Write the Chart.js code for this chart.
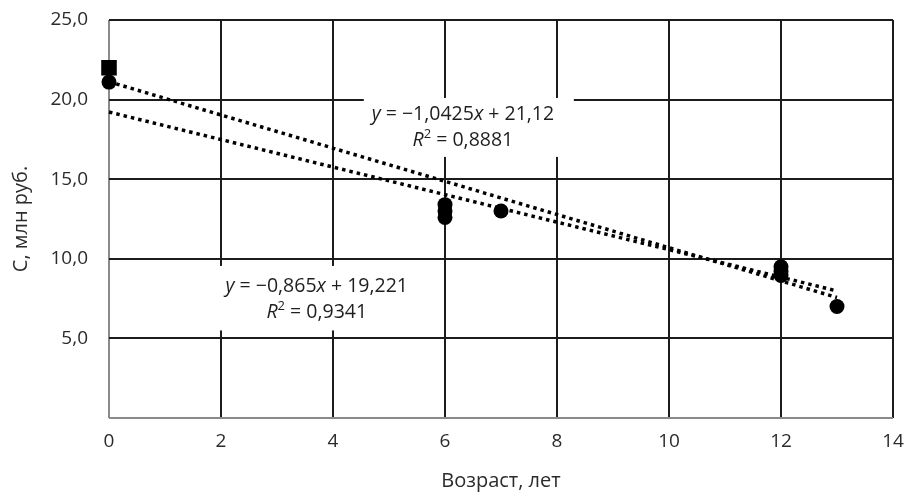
<!DOCTYPE html>
<html>
<head>
<meta charset="utf-8">
<script src="https://cdn.jsdelivr.net/npm/chart.js@4/dist/chart.umd.min.js"></script>
<style>
  html, body { margin: 0; padding: 0; background: #ffffff; }
  #wrap { width: 908px; height: 496px; }
</style>
</head>
<body>
<div id="wrap"><canvas id="c" width="908" height="496"></canvas></div>
<script>
// ---- data ----
const circleAges   = [0, 6, 6, 6, 7, 12, 12, 12, 13];
const circleValues = [21.1, 13.4, 13.0, 12.6, 13.0, 9.5, 9.2, 8.95, 7.0];
const squareAges   = [0];
const squareValues = [22.0];
const trendAges    = [0, 13];
const trend1Values = [21.12, 7.57];   // y = −1,0425x + 21,12
const trend2Values = [19.22, 7.98];   // y = −0,865x + 19,221
const xTickValues  = [0, 2, 4, 6, 8, 10, 12, 14];
const yTickLabels  = ['', '5,0', '10,0', '15,0', '20,0', '25,0'];
const eq1Line1 = [['y', true], [' = −1,0425', false], ['x', true], [' + 21,12', false]];
const eq1Line2 = [['R', true], ['2', 'sup'], [' = 0,8881', false]];
const eq2Line1 = [['y', true], [' = −0,865', false], ['x', true], [' + 19,221', false]];
const eq2Line2 = [['R', true], ['2', 'sup'], [' = 0,9341', false]];

const FONT = '"Open Sans", sans-serif';
const pts = (xs, ys) => xs.map((x, i) => ({ x: x, y: ys[i] }));

const labelPlugin = {
  id: 'eqLabels',
  beforeDatasetsDraw(chart, args, opts) {
    const ctx = chart.ctx, xs = chart.scales.x, ys = chart.scales.y;
    opts.boxes.forEach(b => {
      const l = xs.getPixelForValue(b.box[0]), r = xs.getPixelForValue(b.box[1]);
      const t = ys.getPixelForValue(b.box[2]), btm = ys.getPixelForValue(b.box[3]);
      ctx.save();
      ctx.fillStyle = '#ffffff';
      ctx.fillRect(l, t, r - l, btm - t);
      const cx = xs.getPixelForValue(b.cx);
      b.lines.forEach((segs, i) => {
        const cy = ys.getPixelForValue(b.ly[i]);
        const size = opts.size;
        const fontOf = s => (s[1] === true ? 'italic ' : '') + (s[1] === 'sup' ? Math.round(size * 0.65) : size) + 'px ' + FONT;
        let w = 0;
        segs.forEach(s => { ctx.font = fontOf(s); w += ctx.measureText(s[0]).width; });
        let x = cx - w / 2;
        ctx.fillStyle = '#1e1e1e';
        ctx.textAlign = 'left';
        ctx.textBaseline = 'middle';
        segs.forEach(s => {
          ctx.font = fontOf(s);
          ctx.fillText(s[0], x, s[1] === 'sup' ? cy - size * 0.32 : cy);
          x += ctx.measureText(s[0]).width;
        });
      });
      ctx.restore();
    });
  }
};

const gridColor = ctx => (ctx.tick && ctx.tick.value === 0) ? '#8a8a8a' : '#1c1c1c';

new Chart(document.getElementById('c'), {
  type: 'scatter',
  data: {
    datasets: [
      {
        label: 'trend1', data: pts(trendAges, trend1Values), showLine: true, clip: false,
        borderColor: '#000', borderWidth: 3.5, borderDash: [3.5, 4], pointRadius: 0, order: 3
      },
      {
        label: 'trend2', data: pts(trendAges, trend2Values), showLine: true, clip: false,
        borderColor: '#000', borderWidth: 3.5, borderDash: [3.5, 4], pointRadius: 0, order: 4
      },
      {
        label: 'circles', data: pts(circleAges, circleValues), clip: false,
        pointStyle: 'circle', pointRadius: 7.5, backgroundColor: '#000', borderColor: '#000', borderWidth: 0, order: 1
      },
      {
        label: 'squares', data: pts(squareAges, squareValues), clip: false,
        pointStyle: 'rect', pointRadius: 11, backgroundColor: '#000', borderColor: '#000', borderWidth: 0, order: 2
      }
    ]
  },
  options: {
    responsive: false,
    animation: false,
    devicePixelRatio: 1,
    layout: { autoPadding: false, padding: { top: 20, right: 15, left: 0, bottom: 0 } },
    plugins: {
      legend: { display: false },
      tooltip: { enabled: false },
      eqLabels: {
        size: 19.5,
        boxes: [
          { box: [4.55, 8.3, 20.1, 16.4], cx: 6.32, ly: [19.05, 17.45], lines: [eq1Line1, eq1Line2] },
          { box: [1.9, 5.6, 9.55, 5.5], cx: 3.71, ly: [8.25, 6.62], lines: [eq2Line1, eq2Line2] }
        ]
      }
    },
    scales: {
      x: {
        type: 'linear', min: 0, max: 14,
        afterBuildTicks: s => { s.ticks = xTickValues.map(v => ({ value: v })); },
        afterFit: s => { s.height = 78; s.paddingLeft = 0; s.paddingRight = 0; },
        border: { display: false },
        grid: { color: gridColor, lineWidth: 2, drawTicks: false },
        ticks: { color: '#2b2b2b', font: { family: FONT, size: 19 }, padding: 12, maxRotation: 0 },
        title: { display: true, text: 'Возраст, лет', color: '#2b2b2b', font: { family: FONT, size: 20 }, padding: { top: 0, bottom: 3 } }
      },
      y: {
        type: 'linear', min: 0, max: 25,
        afterBuildTicks: s => { s.ticks = yTickLabels.map((t, i) => ({ value: i * 5 })); },
        afterFit: s => { s.width = 109; s.paddingTop = 0; s.paddingBottom = 0; },
        border: { display: false },
        grid: { color: gridColor, lineWidth: 2, drawTicks: false },
        ticks: {
          color: '#2b2b2b', font: { family: FONT, size: 19 }, padding: 21,
          callback: (v, i) => yTickLabels[i]
        },
        title: { display: true, text: 'C, млн руб.', color: '#2b2b2b', font: { family: FONT, size: 20 }, padding: { top: 9, bottom: 0 } }
      }
    }
  },
  plugins: [labelPlugin]
});
</script>
</body>
</html>
